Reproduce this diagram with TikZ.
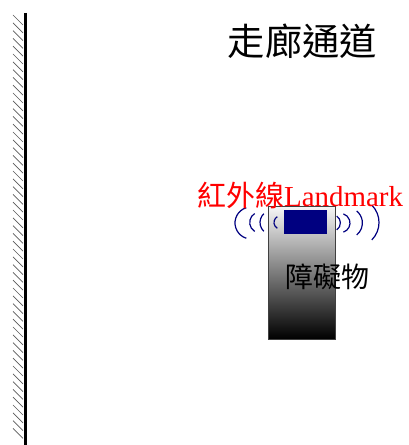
\documentclass[tikz,border=0pt]{standalone}
\usepackage{fontspec}
\setmainfont{Liberation Serif}
\newfontfamily\cjk{Noto Sans CJK TC}
\usepackage{xcolor}
\usetikzlibrary{positioning}
\definecolor{navyblue}{RGB}{0,0,128}

\tikzset{
    wave/.style={draw=navyblue, line width=0.9pt},
    hatch/.style={black!65, line width=0.5pt},
}

\begin{document}
\begin{tikzpicture}[x=0.75pt, y=0.75pt]
        \useasboundingbox (0,0) rectangle (408,445);

        % wall
        \draw[line width=2.25pt] (25,432) -- (25,0);
        \foreach \y in {430,422.2,...,10}
            \draw[hatch] (13,\y) -- (23,\y-10);

        % obstacle
        \draw[draw=black!75, line width=0.7pt, top color=black!3, middle color=black!33, bottom color=black]
            (268,106) rectangle (335,239);
        \fill[navyblue] (284,210.5) rectangle (327,234.5);

        % left waves
        \draw[wave] ([shift={(107:16)}]251,222) arc[start angle=107, end angle=253, radius=16];
        \draw[wave] ([shift={(122:10.6)}]260.3,222.5) arc[start angle=122, end angle=238, radius=10.6];
        \draw[wave] ([shift={(133:12)}]272,222.5) arc[start angle=133, end angle=227, radius=12];
        \draw[wave] ([shift={(121:6.8)}]280.8,222.5) arc[start angle=121, end angle=239, radius=6.8];

        % right waves
        \draw[wave] ([shift={(-56:8.4)}]332,222) arc[start angle=-56, end angle=56, radius=8.4];
        \draw[wave] ([shift={(-72:9.6)}]340.4,222) arc[start angle=-72, end angle=72, radius=9.6];
        \draw[wave] ([shift={(-51:15.4)}]347,222) arc[start angle=-51, end angle=51, radius=15.4];
        \draw[wave] ([shift={(-45:24.6)}]354.4,222.5) arc[start angle=-45, end angle=45, radius=24.6];

        \node[font=\cjk\fontsize{28}{30}\selectfont] at (302.5,404) (title) {走廊通道};
        \node[red, anchor=base west, inner sep=0pt, font=\fontsize{21.7}{24}\selectfont]
            at (197,238) (ir) {{\cjk 紅外線}Landmark};
        \node[font=\cjk\fontsize{21}{24}\selectfont] at (327.5,168) (obstlabel) {障礙物};
    \end{tikzpicture}
\end{document}
